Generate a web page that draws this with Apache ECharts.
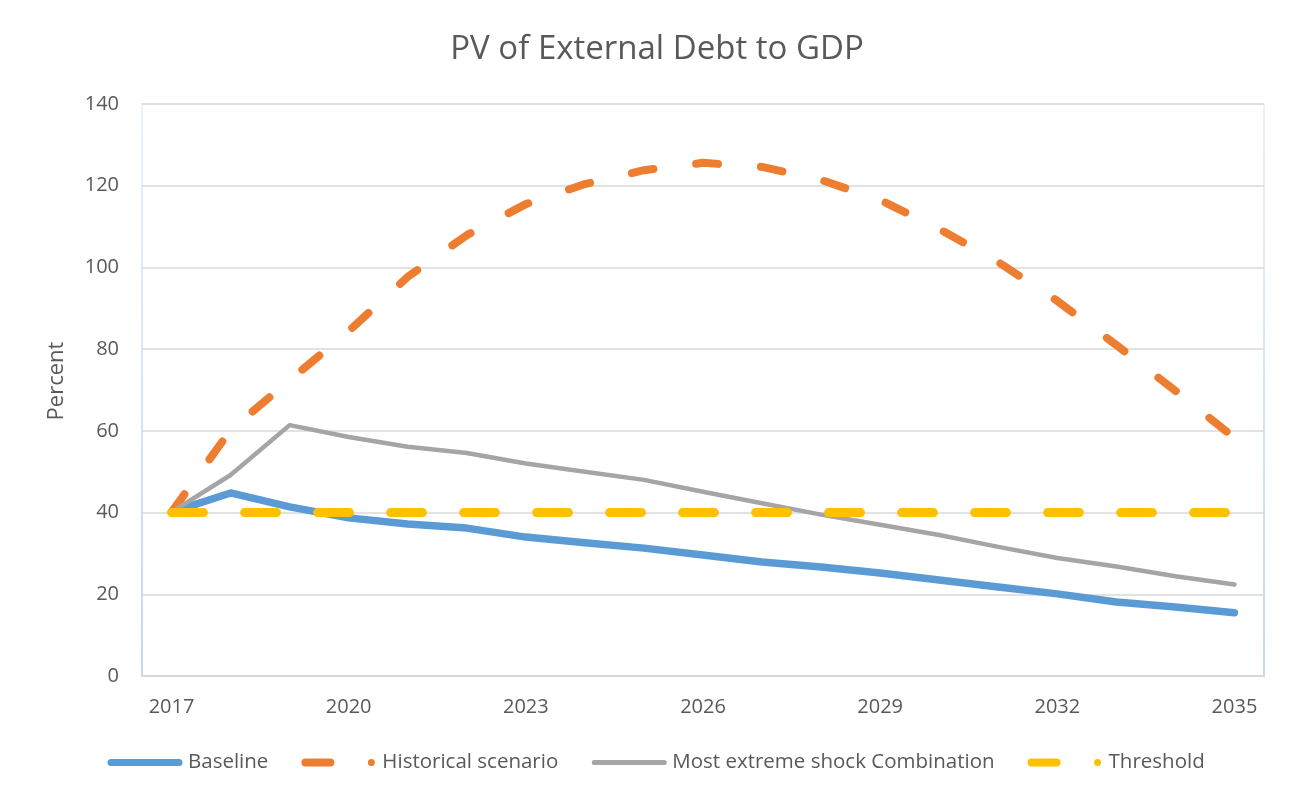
<!DOCTYPE html>
<html>
<head>
<meta charset="utf-8">
<script src="https://cdn.jsdelivr.net/npm/echarts@6/dist/echarts.min.js"></script>
<style>
  html, body { margin: 0; padding: 0; background: #ffffff; }
  #chart { width: 1291px; height: 794px; }
</style>
</head>
<body>
<div id="chart"></div>
<script>
// Years on the horizontal axis
const years = ['2017','2018','2019','2020','2021','2022','2023','2024','2025','2026',
               '2027','2028','2029','2030','2031','2032','2033','2034','2035'];

// PV of external debt to GDP, percent
const baseline   = [40.1, 44.8, 41.4, 38.7, 37.2, 36.2, 34.0, 32.6, 31.3, 29.6,
                    27.9, 26.7, 25.2, 23.5, 21.8, 20.1, 18.1, 16.9, 15.5];
const historical = [40.1, 60.2, 72.4, 84.4, 97.7, 107.9, 115.5, 120.4, 123.8, 125.6,
                    124.6, 121.4, 116.5, 109.4, 101.3, 91.8, 81.0, 69.8, 58.3];
const extremeShock = [40.1, 49.2, 61.4, 58.5, 56.1, 54.6, 52.0, 50.0, 48.0, 45.1,
                      42.3, 39.5, 37.0, 34.5, 31.6, 28.9, 26.8, 24.4, 22.4];
const threshold  = [40, 40, 40, 40, 40, 40, 40, 40, 40, 40,
                    40, 40, 40, 40, 40, 40, 40, 40, 40];

const seriesNames = ['Baseline', 'Historical scenario', 'Most extreme shock Combination', 'Threshold'];

// Y axis ticks
const yMin = 0, yMax = 140, yStep = 20;

const C_BLUE = '#5b9bd5', C_ORANGE = '#ed7d31', C_GRAY = '#a5a5a5', C_GOLD = '#ffc000';
const TEXT = '#595959';
const FONT = '"Open Sans", "Noto Sans", sans-serif';

// Legend keys: solid bar, or dash followed by a dot for dashed lines
const ICON_SOLID = 'path://M0 0M76 9M4 1L72 1A3.5 3.5 0 0 1 72 8L4 8A3.5 3.5 0 0 1 4 1Z';
const ICON_SOLID_THIN = 'path://M0 0M76 9M3 2L73 2A2.5 2.5 0 0 1 73 7L3 7A2.5 2.5 0 0 1 3 2Z';
const ICON_DASH = 'path://M0 0M76 9M4 0.5L29 0.5A4 4 0 0 1 29 8.5L4 8.5A4 4 0 0 1 4 0.5Z' +
                  'M70 1A3.5 3.5 0 1 1 70 8A3.5 3.5 0 1 1 70 1Z';

const chart = echarts.init(document.getElementById('chart'), null, { renderer: 'canvas' });

chart.setOption({
  animation: false,
  backgroundColor: '#ffffff',
  title: {
    text: 'PV of External Debt to GDP',
    left: 652,
    top: 28,
    textAlign: 'center',
    textStyle: { color: TEXT, fontFamily: FONT, fontSize: 33, fontWeight: 'normal' }
  },
  legend: {
    left: 102,
    top: 747,
    itemWidth: 76,
    itemHeight: 9,
    itemGap: 33,
    symbolKeepAspect: false,
    itemStyle: { borderWidth: 0 },
    textStyle: { color: TEXT, fontFamily: FONT, fontSize: 20.5 },
    data: [
      { name: seriesNames[0], icon: ICON_SOLID },
      { name: seriesNames[1], icon: ICON_DASH },
      { name: seriesNames[2], icon: ICON_SOLID_THIN },
      { name: seriesNames[3], icon: ICON_DASH }
    ]
  },
  grid: {
    left: 142, right: 27, top: 104, bottom: 118,
    show: true,
    backgroundColor: 'transparent',
    borderWidth: 2,
    borderColor: new echarts.graphic.LinearGradient(0, 0, 0, 1, [
      { offset: 0, color: '#eaf2fa' },
      { offset: 1, color: '#c3d8ef' }
    ])
  },
  xAxis: {
    type: 'category',
    data: years,
    boundaryGap: true,
    axisLine: { show: false },
    axisTick: { show: false },
    axisLabel: { interval: 2, color: TEXT, fontFamily: FONT, fontSize: 20, margin: 21 },
    splitLine: { show: false }
  },
  yAxis: {
    type: 'value',
    min: yMin, max: yMax, interval: yStep,
    name: 'Percent',
    nameLocation: 'middle',
    nameGap: 74,
    nameRotate: 90,
    nameTextStyle: { color: TEXT, fontFamily: FONT, fontSize: 22, padding: [0, 0, 0, 18] },
    axisLine: { show: false },
    axisTick: { show: false },
    axisLabel: { color: TEXT, fontFamily: FONT, fontSize: 20, margin: 23 },
    splitLine: { lineStyle: { color: '#d9d9d9', width: 1.5 } }
  },
  series: [
    {
      name: seriesNames[0], type: 'line', data: baseline,
      showSymbol: false, symbol: 'none', color: C_BLUE,
      lineStyle: { color: C_BLUE, width: 7.5, cap: 'round', join: 'round' }
    },
    {
      name: seriesNames[1], type: 'line', data: historical,
      showSymbol: false, symbol: 'none', color: C_ORANGE,
      lineStyle: { color: C_ORANGE, width: 8, type: [22, 43], cap: 'round', join: 'round' }
    },
    {
      name: seriesNames[2], type: 'line', data: extremeShock,
      showSymbol: false, symbol: 'none', color: C_GRAY,
      lineStyle: { color: C_GRAY, width: 4.5, cap: 'round', join: 'round' }
    },
    {
      name: seriesNames[3], type: 'line', data: threshold,
      showSymbol: false, symbol: 'none', color: C_GOLD,
      lineStyle: { color: C_GOLD, width: 9, type: [32, 41], cap: 'round', join: 'round' }
    }
  ]
});
</script>
</body>
</html>
